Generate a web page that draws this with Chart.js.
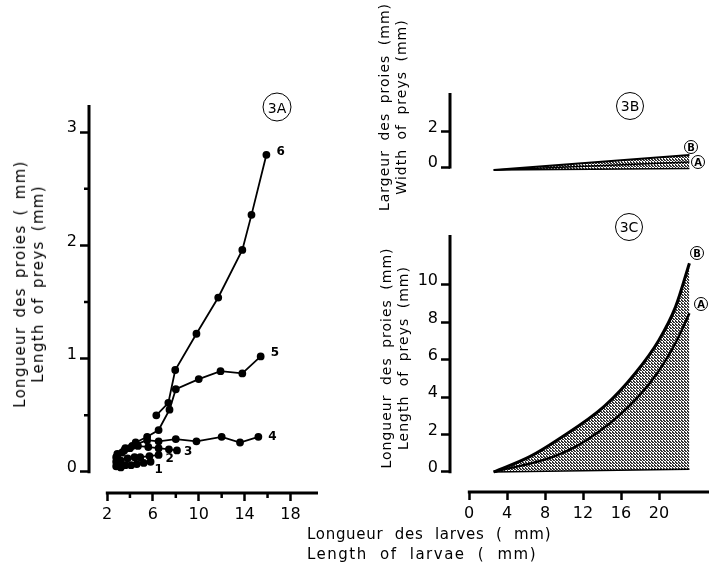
<!DOCTYPE html>
<html>
<head>
<meta charset="utf-8">
<script src="https://cdn.jsdelivr.net/npm/chart.js@4.4.1/dist/chart.umd.min.js"></script>
<style>
  body { margin: 0; background: #fff; }
  #page { position: relative; width: 709px; height: 563px; overflow: hidden; font-family: "DejaVu Sans", sans-serif; color: #000; }
  canvas { position: absolute; left: 0; top: 0; }
  .vt { position: absolute; transform: translate(-50%, -50%) rotate(-90deg); white-space: pre; text-align: center; }
  .ht { position: absolute; white-space: pre; }
  .circ { position: absolute; transform: translate(-50%, -50%); border: 1.6px solid #000; border-radius: 50%;
          display: flex; align-items: center; justify-content: center; box-sizing: border-box; }
</style>
</head>
<body>
<div id="page">
  <canvas id="fig3a" width="709" height="563"></canvas>
  <canvas id="fig3b" width="709" height="563"></canvas>
  <canvas id="fig3c" width="709" height="563"></canvas>

  <div class="vt" style="left:29px; top:284px; font-size:15px; line-height:18px; letter-spacing:1.3px; word-spacing:3px;">Longueur des proies ( mm)
Length of preys (mm)</div>
  <div class="vt" style="left:393px; top:107px; font-size:14px; line-height:17px; letter-spacing:1px; word-spacing:4px;">Largeur des proies (mm)
Width of preys (mm)</div>
  <div class="vt" style="left:395px; top:358px; font-size:14px; line-height:17px; letter-spacing:1px; word-spacing:4px;">Longueur des proies (mm)
Length of preys (mm)</div>

  <div class="ht" style="left:307px; top:524px; font-size:15px; line-height:20px; letter-spacing:0.7px; word-spacing:6px;">Longueur des larves ( mm)</div>
  <div class="ht" style="left:307px; top:544px; font-size:15px; line-height:20px; letter-spacing:1.5px; word-spacing:6px;">Length of larvae ( mm)</div>

  <div class="circ" style="left:277px; top:107px; width:29px; height:29px; font-size:14px;">3A</div>
  <div class="circ" style="left:630px; top:106px; width:28px; height:28px; font-size:14px;">3B</div>
  <div class="circ" style="left:629px; top:227px; width:28px; height:28px; font-size:14px;">3C</div>
  <div class="circ" style="left:691px; top:147px; width:14px; height:14px; font-size:10px; font-weight:bold;">B</div>
  <div class="circ" style="left:698px; top:162px; width:14px; height:14px; font-size:10px; font-weight:bold;">A</div>
  <div class="circ" style="left:697px; top:253px; width:14px; height:14px; font-size:10px; font-weight:bold;">B</div>
  <div class="circ" style="left:701px; top:304px; width:14px; height:14px; font-size:10px; font-weight:bold;">A</div>
</div>

<script>
// 3A: prey length (mm) against larval length (mm), one series per prey class
const larva1 = [2.8, 3.2, 3.6, 4.1, 4.6, 5.2, 5.8];
const prey1  = [0.05, 0.04, 0.06, 0.06, 0.07, 0.08, 0.09];
const larva2 = [2.8, 3.2, 3.8, 4.4, 4.9, 5.7, 6.5];
const prey2  = [0.09, 0.10, 0.12, 0.13, 0.13, 0.14, 0.15];
const larva3 = [2.8, 3.3, 4.0, 4.7, 5.6, 6.5, 7.4, 8.1];
const prey3  = [0.13, 0.17, 0.21, 0.23, 0.22, 0.21, 0.20, 0.19];
const larva4 = [2.9, 3.5, 4.2, 5.5, 6.5, 8.0, 9.8, 12.0, 13.6, 15.2];
const prey4  = [0.14, 0.19, 0.23, 0.28, 0.27, 0.29, 0.27, 0.31, 0.26, 0.31];
const larva5 = [2.9, 3.6, 4.5, 5.5, 6.5, 7.45, 8.0, 10.0, 11.9, 13.8, 15.4];
const prey5  = [0.16, 0.21, 0.26, 0.31, 0.37, 0.55, 0.73, 0.82, 0.89, 0.87, 1.02];
const larva6 = [6.3, 7.35, 7.95, 9.8, 11.7, 13.8, 14.6, 15.9];
const prey6  = [0.50, 0.61, 0.90, 1.22, 1.54, 1.96, 2.27, 2.80];
const seriesNames = ['1', '2', '3', '4', '5', '6'];

// 3B: prey width envelope
const larvaWidth = [2.6, 23.2];
const widthB     = [-0.15, 0.69];
const widthA     = [-0.15, 0.30];
const widthBase  = [-0.15, -0.07];

// 3C: prey length envelope
const larvaB = [2.6, 6.4, 9.3, 14.2, 17.5, 20.0, 21.75, 23.2];
const lengthB = [0, 0.82, 1.71, 3.49, 5.28, 7.06, 8.84, 11.16];
const larvaA = [2.6, 8.9, 12.4, 16.8, 19.8, 21.9, 23.2];
const lengthA = [0, 0.82, 1.71, 3.49, 5.28, 7.06, 8.49];
const larvaBase = [2.6, 23.2];
const lengthBase = [0, 0.14];

// ticks
const ticksAx = [2, 6, 10, 14, 18];
const minorAx = [4, 8, 12, 16];
const ticksAy = [0, 1, 2, 3];
const minorAy = [0.5, 1.5, 2.5];
const ticksBy = [0, 2];
const ticksCx = [0, 4, 8, 12, 16, 20];
const ticksCy = [0, 2, 4, 6, 8, 10];

const pts = (xs, ys) => xs.map((x, i) => ({x, y: ys[i]}));

// fine dotted screen for the shaded envelopes
const stipple = (() => {
  const c = document.createElement('canvas');
  c.width = 3; c.height = 3;
  const g = c.getContext('2d');
  g.fillStyle = '#fff';
  g.fillRect(0, 0, 3, 3);
  g.fillStyle = '#333';
  g.fillRect(0, 0, 2, 1);
  g.fillRect(1, 1, 2, 1);
  g.fillRect(0, 2, 1, 1);
  return g.createPattern(c, 'repeat');
})();

// axis lines that stop at the first tick, plus short minor ticks
const axisArt = {
  id: 'axisArt',
  afterDraw(chart, args, o) {
    const {ctx, chartArea: a} = chart;
    const x = chart.scales.x, y = chart.scales.y;
    ctx.save();
    ctx.strokeStyle = '#000';
    ctx.lineWidth = 3;
    ctx.beginPath();
    ctx.moveTo(a.left, y.getPixelForValue(o.yFrom) + 1.2);
    ctx.lineTo(a.left, a.top);
    if (o.xFrom !== undefined) {
      ctx.moveTo(x.getPixelForValue(o.xFrom) - 1.2, a.bottom);
      ctx.lineTo(a.right, a.bottom);
    }
    ctx.stroke();
    ctx.lineWidth = 2.5;
    ctx.beginPath();
    (o.xMinor || []).forEach(v => {
      const p = x.getPixelForValue(v);
      ctx.moveTo(p, a.bottom);
      ctx.lineTo(p, a.bottom + 5);
    });
    (o.yMinor || []).forEach(v => {
      const p = y.getPixelForValue(v);
      ctx.moveTo(a.left, p);
      ctx.lineTo(a.left - 5, p);
    });
    ctx.stroke();
    ctx.restore();
  }
};

// numbers at the end of each 3A series
const seriesTags = {
  id: 'seriesTags',
  afterDatasetsDraw(chart, args, o) {
    const ctx = chart.ctx;
    ctx.save();
    ctx.fillStyle = '#000';
    ctx.font = 'bold 12px "DejaVu Sans"';
    ctx.textBaseline = 'middle';
    o.names.forEach((name, i) => {
      const last = chart.getDatasetMeta(i).data.at(-1);
      ctx.fillText(name, last.x + o.dx[i], last.y + o.dy[i]);
    });
    ctx.restore();
  }
};

const tickFont = {family: 'DejaVu Sans', size: 16};

function axis(min, max, ticks, fitSize, horizontal, extra) {
  return Object.assign({
    type: 'linear',
    min: min,
    max: max,
    afterBuildTicks: s => { s.ticks = ticks.map(value => ({value})); },
    afterFit: s => { if (horizontal) s.height = fitSize; else s.width = fitSize; },
    ticks: {
      color: '#000', font: tickFont, autoSkip: false, maxRotation: 0,
      padding: horizontal ? 4 : 3, labelOffset: horizontal ? 0 : -4,
      callback: v => String(v)
    },
    grid: {drawOnChartArea: false, tickLength: horizontal ? 8 : 9, tickWidth: 2.5, tickColor: '#000'},
    border: {display: false}
  }, extra || {});
}

const lineSet = (data, extra) => Object.assign({
  data: data, showLine: true, borderColor: '#000', backgroundColor: '#000',
  borderWidth: 1.8, pointRadius: 3, pointHoverRadius: 3, fill: false
}, extra || {});

const basePlugins = {
  legend: {display: false},
  tooltip: {enabled: false},
  filler: {drawTime: 'beforeDatasetsDraw'}
};

const common = {
  responsive: false,
  animation: false,
  events: []
};

// 3A
new Chart(document.getElementById('fig3a'), {
  type: 'scatter',
  data: {
    datasets: [
      lineSet(pts(larva1, prey1)),
      lineSet(pts(larva2, prey2)),
      lineSet(pts(larva3, prey3)),
      lineSet(pts(larva4, prey4)),
      lineSet(pts(larva5, prey5)),
      lineSet(pts(larva6, prey6))
    ]
  },
  options: Object.assign({}, common, {
    layout: {padding: {left: 39, right: 391, top: 105, bottom: 30}},
    scales: {
      x: axis(0.43, 20.4, ticksAx, 40, true),
      y: axis(-0.186, 3.24, ticksAy, 50, false)
    },
    plugins: Object.assign({}, basePlugins, {
      axisArt: {xFrom: 2, yFrom: 0, xMinor: minorAx, yMinor: minorAy},
      seriesTags: {names: seriesNames, dx: [4, 7, 7, 10, 10, 10], dy: [8, 4, 1, 0, -4, -3]}
    })
  }),
  plugins: [axisArt, seriesTags]
});

// 3B (no x axis of its own; shares the 3C larval scale)
new Chart(document.getElementById('fig3b'), {
  type: 'scatter',
  data: {
    datasets: [
      lineSet(pts(larvaWidth, widthBase), {pointRadius: 0, borderWidth: 1.5}),
      lineSet(pts(larvaWidth, widthB), {pointRadius: 0, borderWidth: 2, fill: '-1', backgroundColor: stipple}),
      lineSet(pts(larvaWidth, widthA), {pointRadius: 0, borderWidth: 1.6})
    ]
  },
  options: Object.assign({}, common, {
    layout: {padding: {left: 400, right: 0, top: 93, bottom: 383}},
    scales: {
      x: axis(-2.0, 25.26, ticksCx, 0, true, {display: false}),
      y: axis(-0.71, 4.17, ticksBy, 50, false)
    },
    plugins: Object.assign({}, basePlugins, {axisArt: {yFrom: 0}})
  }),
  plugins: [axisArt]
});

// 3C
new Chart(document.getElementById('fig3c'), {
  type: 'scatter',
  data: {
    datasets: [
      lineSet(pts(larvaBase, lengthBase), {pointRadius: 0, borderWidth: 1.5}),
      lineSet(pts(larvaB, lengthB), {pointRadius: 0, borderWidth: 3, fill: '-1', backgroundColor: stipple, cubicInterpolationMode: 'monotone'}),
      lineSet(pts(larvaA, lengthA), {pointRadius: 0, borderWidth: 2.4, cubicInterpolationMode: 'monotone'})
    ]
  },
  options: Object.assign({}, common, {
    layout: {padding: {left: 390, right: 0, top: 235, bottom: 31}},
    scales: {
      x: axis(-2.0, 25.26, ticksCx, 40, true),
      y: axis(-1.07, 12.67, ticksCy, 60, false)
    },
    plugins: Object.assign({}, basePlugins, {axisArt: {xFrom: 0, yFrom: 0}})
  }),
  plugins: [axisArt]
});
</script>
</body>
</html>
